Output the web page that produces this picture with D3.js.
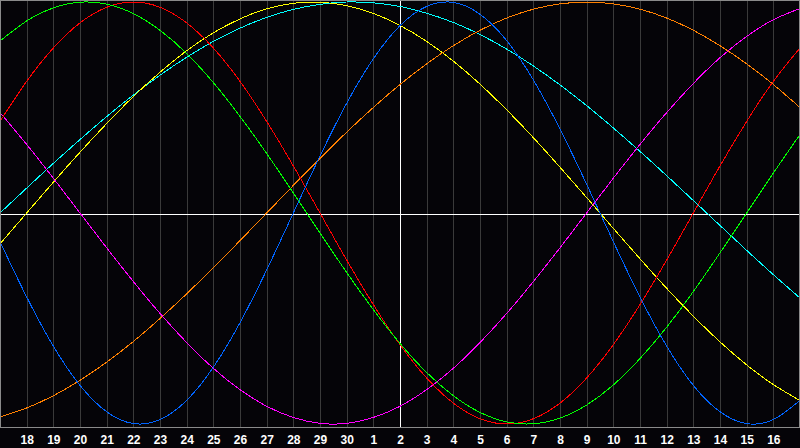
<!DOCTYPE html>
<html><head><meta charset="utf-8">
<script src="https://cdn.jsdelivr.net/npm/d3@7"></script>
<style>html,body{margin:0;padding:0;background:#050408;}svg{display:block}</style>
</head><body>
<svg id="c" width="800" height="448"></svg>
<script>
// Day labels (index 0..30); today = index 15 ("2")
const days = ["17","18","19","20","21","22","23","24","25","26","27","28","29","30","1","2","3","4","5","6","7","8","9","10","11","12","13","14","15","16","17"];
const todayIndex = 15;

// Series values (percent, -100..100) per day
const physical = [-13.6,-39.8,-63.1,-81.7,-94.2,-99.8,-97.9,-88.8,-73.1,-52.0,-27.0,0,27.0,52.0,73.1,88.8,97.9,99.8,94.2,81.7,63.1,39.8,13.6,-13.6,-39.8,-63.1,-81.7,-94.2,-99.8,-97.9,-88.8];
const emotional = [43.4,62.4,78.2,90.1,97.5,100,97.5,90.1,78.2,62.4,43.4,22.3,0,-22.3,-43.4,-62.4,-78.2,-90.1,-97.5,-100,-97.5,-90.1,-78.2,-62.4,-43.4,-22.3,0,22.3,43.4,62.4,78.2];
const intellectual = [81.5,91.0,97.2,99.9,99.0,94.5,86.6,75.6,61.8,45.8,28.2,9.5,-9.5,-28.2,-45.8,-61.8,-75.6,-86.6,-94.5,-99.0,-99.9,-97.2,-91.0,-81.5,-69.0,-54.1,-37.2,-18.9,0,18.9,37.2];
const intuitive = [47.6,32.5,16.5,0,-16.5,-32.5,-47.6,-61.4,-73.6,-83.7,-91.6,-96.9,-99.7,-99.7,-96.9,-91.6,-83.7,-73.6,-61.4,-47.6,-32.5,-16.5,0,16.5,32.5,47.6,61.4,73.6,83.7,91.6,96.9];
const aesthetic = [-14.6,0,14.6,28.8,42.4,55.2,66.7,76.9,85.4,92.0,96.8,99.4,99.9,98.3,94.6,88.9,81.3,72.0,61.1,48.9,35.7,21.7,7.3,-7.3,-21.7,-35.7,-48.9,-61.1,-72.0,-81.3,-88.9];
const awareness = [-96.6,-92.4,-86.6,-79.3,-70.7,-60.9,-50.0,-38.3,-25.9,-13.1,0,13.1,25.9,38.3,50.0,60.9,70.7,79.3,86.6,92.4,96.6,99.1,100,99.1,96.6,92.4,86.6,79.3,70.7,60.9,50.0];
const spiritual = [0,11.8,23.5,34.8,45.7,55.9,65.3,73.8,81.3,87.6,92.7,96.5,98.9,100.0,99.6,97.9,94.7,90.3,84.6,77.7,69.7,60.7,50.9,40.3,29.2,17.7,5.9,-5.9,-17.7,-29.2,-40.3];

const seriesList = [
  {values: spiritual, color: "#00ffff"},
  {values: aesthetic, color: "#ffff00"},
  {values: awareness, color: "#ff8000"},
  {values: intuitive, color: "#ff00ff"},
  {values: emotional, color: "#ff0000"},
  {values: intellectual, color: "#00ff00"},
  {values: physical, color: "#0064ff"}
];

const W = 800, plotH = 427;
const svg = d3.select("#c");
svg.append("rect").attr("width", 800).attr("height", 448).attr("fill", "#050408");

const x = d3.scaleLinear().domain([0, days.length - 1]).range([0, W]);
const y = d3.scaleLinear().domain([-100, 100]).range([424, 2]);

// vertical grid
const grid = svg.append("g").call(
  d3.axisBottom(x).tickValues(d3.range(1, days.length - 1)).tickSize(plotH).tickFormat("")
);
grid.select(".domain").remove();
grid.selectAll("line").attr("stroke", "#3a3a3a").attr("shape-rendering", "crispEdges");

// day labels
const ax = svg.append("g").attr("transform", `translate(0,${plotH})`).call(
  d3.axisBottom(x).tickValues(d3.range(1, days.length - 1)).tickSize(0).tickPadding(8).tickFormat(i => days[i])
);
ax.select(".domain").remove();
ax.selectAll("text").attr("fill", "#ffffff").attr("font-family", "'Liberation Sans', Arial, sans-serif")
  .attr("font-weight", "bold").attr("font-size", 12);

// today & zero lines
svg.append("line").attr("x1", 0).attr("x2", W).attr("y1", 214).attr("y2", 214)
  .attr("stroke", "#ffffff").attr("shape-rendering", "crispEdges");
svg.append("line").attr("x1", x(todayIndex)).attr("x2", x(todayIndex)).attr("y1", 0).attr("y2", plotH)
  .attr("stroke", "#ffffff").attr("shape-rendering", "crispEdges");

// clip
svg.append("clipPath").attr("id", "clip").append("rect").attr("x", 0).attr("y", 0).attr("width", W).attr("height", plotH);

const line = d3.line().x((d, i) => x(i)).y(d => y(d)).curve(d3.curveNatural);
const lg = svg.append("g").attr("clip-path", "url(#clip)");
seriesList.forEach(s => {
  lg.append("path").attr("d", line(s.values)).attr("fill", "none")
    .attr("stroke", s.color).attr("stroke-width", 1).attr("shape-rendering", "crispEdges");
});

// border
svg.append("rect").attr("x", 0.5).attr("y", 0.5).attr("width", W - 1).attr("height", plotH)
  .attr("fill", "none").attr("stroke", "#8a8a8a").attr("shape-rendering", "crispEdges");
</script>
</body></html>
